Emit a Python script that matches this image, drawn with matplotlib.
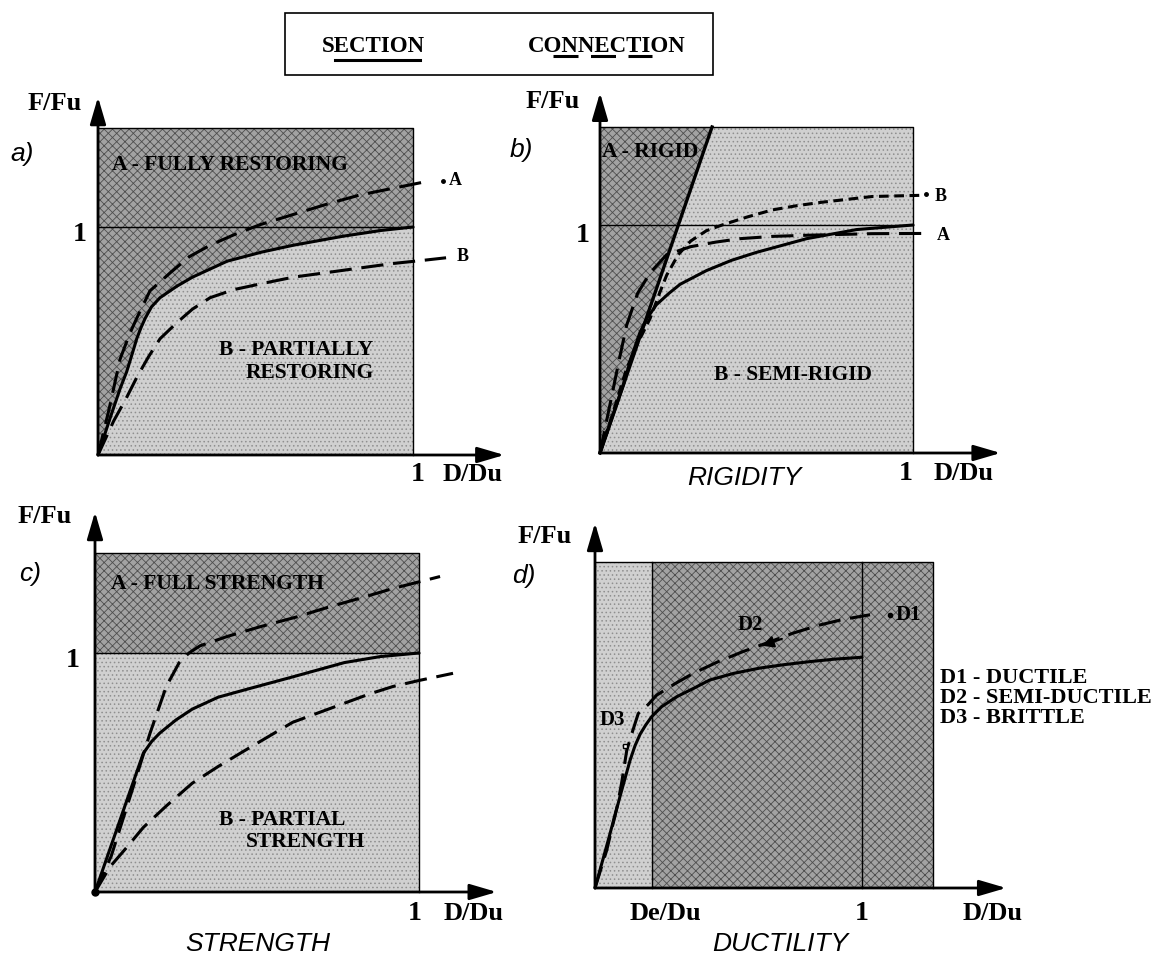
import numpy as np
import matplotlib.pyplot as plt
from matplotlib.patches import Rectangle
from matplotlib.lines import Line2D

plt.rcParams['lines.scale_dashes'] = False
plt.rcParams['hatch.linewidth'] = 0.6

W, H = 1175, 961
SERIF = 'Liberation Serif'
SANS = 'Liberation Sans'

# dash patterns (points)
LONG = (0, (16, 7))
SHORT = (0, (7, 4))

# ---- a) restoring: section vs. connections A (fully) and B (partially)
a_section_x = [0, 0.038, 0.07, 0.091, 0.11, 0.123, 0.137, 0.15, 0.17, 0.197, 0.25, 0.30, 0.41, 0.52, 0.62, 0.78, 0.90, 1.0]
a_section_y = [0, 0.16, 0.29, 0.365, 0.45, 0.51, 0.56, 0.60, 0.65, 0.69, 0.74, 0.78, 0.85, 0.89, 0.92, 0.96, 0.985, 1.0]
a_connA_x = [0, 0.035, 0.07, 0.10, 0.123, 0.165, 0.23, 0.29, 0.356, 0.43, 0.514, 0.62, 0.726, 0.83, 0.937, 1.045]
a_connA_y = [0, 0.20, 0.42, 0.53, 0.60, 0.72, 0.80, 0.87, 0.92, 0.965, 1.01, 1.055, 1.10, 1.14, 1.17, 1.20]
a_connB_x = [0, 0.05, 0.09, 0.123, 0.16, 0.197, 0.25, 0.30, 0.356, 0.43, 0.514, 0.62, 0.726, 0.83, 0.937, 1.04, 1.105]
a_connB_y = [0, 0.15, 0.25, 0.34, 0.43, 0.51, 0.58, 0.64, 0.69, 0.725, 0.75, 0.78, 0.80, 0.82, 0.84, 0.855, 0.865]

# ---- b) rigidity
b_rigid_x = [0, 0.358]
b_rigid_y = [0, 1.43]
b_section_x = [0, 0.04, 0.075, 0.10, 0.128, 0.15, 0.18, 0.22, 0.256, 0.34, 0.42, 0.50, 0.58, 0.66, 0.74, 0.82, 0.91, 1.0]
b_section_y = [0, 0.16, 0.30, 0.42, 0.53, 0.59, 0.65, 0.70, 0.74, 0.80, 0.845, 0.88, 0.91, 0.94, 0.96, 0.98, 0.99, 1.0]
b_connA_x = [0, 0.03, 0.06, 0.085, 0.12, 0.16, 0.213, 0.29, 0.37, 0.447, 0.55, 0.66, 0.87, 1.04]
b_connA_y = [0, 0.20, 0.40, 0.56, 0.70, 0.79, 0.87, 0.905, 0.925, 0.94, 0.95, 0.955, 0.962, 0.963]
b_connB_x = [0, 0.04, 0.085, 0.12, 0.16, 0.19, 0.213, 0.25, 0.29, 0.34, 0.39, 0.47, 0.55, 0.63, 0.71, 0.87, 1.02]
b_connB_y = [0, 0.17, 0.37, 0.48, 0.59, 0.70, 0.78, 0.87, 0.93, 0.975, 1.0, 1.035, 1.066, 1.085, 1.10, 1.125, 1.13]

# ---- c) strength
c_section_x = [0, 0.05, 0.10, 0.149, 0.175, 0.20, 0.25, 0.30, 0.38, 0.46, 0.61, 0.77, 0.88, 1.0]
c_section_y = [0, 0.195, 0.39, 0.58, 0.63, 0.665, 0.72, 0.765, 0.815, 0.845, 0.90, 0.96, 0.985, 1.0]
c_connA_x = [0, 0.05, 0.118, 0.17, 0.22, 0.26, 0.29, 0.324, 0.41, 0.51, 0.62, 0.716, 0.82, 0.92, 1.065]
c_connA_y = [0, 0.15, 0.44, 0.665, 0.86, 0.96, 1.0, 1.03, 1.07, 1.11, 1.15, 1.19, 1.23, 1.27, 1.32]
c_connB_x = [0, 0.046, 0.10, 0.149, 0.22, 0.30, 0.38, 0.46, 0.535, 0.61, 0.69, 0.77, 0.85, 0.92, 1.0, 1.105]
c_connB_y = [0, 0.105, 0.19, 0.27, 0.36, 0.455, 0.525, 0.59, 0.65, 0.71, 0.75, 0.79, 0.83, 0.86, 0.885, 0.915]

# ---- d) ductility
d_elastic = 0.213      # De/Du
d_frame_right = 1.266
d_section_x = [0, 0.05, 0.094, 0.131, 0.15, 0.169, 0.19, 0.212, 0.25, 0.306, 0.37, 0.43, 0.52, 0.618, 0.71, 0.805, 0.90, 1.0]
d_section_y = [0, 0.21, 0.40, 0.555, 0.62, 0.67, 0.71, 0.746, 0.79, 0.833, 0.87, 0.906, 0.935, 0.958, 0.973, 0.986, 0.997, 1.005]
d_conn_x = [0, 0.044, 0.084, 0.10, 0.119, 0.14, 0.162, 0.20, 0.231, 0.30, 0.368, 0.46, 0.555, 0.65, 0.742, 0.84, 0.93, 1.03]
d_conn_y = [0, 0.165, 0.36, 0.46, 0.60, 0.68, 0.76, 0.80, 0.84, 0.89, 0.935, 0.985, 1.03, 1.07, 1.11, 1.145, 1.17, 1.19]

LIGHT = dict(facecolor='#d0d0d0', edgecolor='#8f8f8f', hatch='....', linewidth=0, zorder=1)
DARK = dict(facecolor='#a2a2a2', edgecolor='#4e4e4e', hatch='xxxx', linewidth=0, zorder=1)

fig = plt.figure(figsize=(W / 100, H / 100), dpi=100)


def make_panel(ox, oy, ux, uy):
    xlim, ylim = (-0.4, 1.7), (-0.35, 1.75)
    left = (ox + xlim[0] * ux) / W
    bottom = 1 - (oy - ylim[0] * uy) / H
    ax = fig.add_axes([left, bottom, (xlim[1] - xlim[0]) * ux / W, (ylim[1] - ylim[0]) * uy / H])
    ax.set_xlim(xlim)
    ax.set_ylim(ylim)
    ax.axis('off')
    return ax


def axis_arrows(ax, xend, yend):
    for xy in [(xend, 0), (0, yend)]:
        ax.annotate('', xy=xy, xytext=(0, 0), zorder=6,
                    arrowprops=dict(arrowstyle='-|>,head_length=0.75,head_width=0.22',
                                    lw=2.0, color='k', shrinkA=0, shrinkB=0, mutation_scale=22))


def frame(ax, right, top, hline=True):
    ax.plot([0, right, right], [top, top, 0], color='k', lw=1.0, zorder=2)
    if hline:
        ax.plot([0, right], [1, 1], color='k', lw=1.0, zorder=2)


def bold(ax, x, y, s, size=15.5, ha='center'):
    ax.text(x, y, s, family=SERIF, weight='bold', size=size, ha=ha, va='center', zorder=7)


def italic(ax, x, y, s, size=19):
    ax.text(x, y, s, family=SANS, style='italic', size=size, ha='center', va='center', zorder=7)


def curve(ax, x, y, ls='-'):
    ax.plot(x, y, color='k', lw=2.2, ls=ls, solid_capstyle='round', solid_joinstyle='round', zorder=4)


# ---------------- a)
top = 1.434
ax = make_panel(98, 455, 315, 228)
ax.fill_between(a_section_x, a_section_y, top, **DARK)
ax.fill_between(a_section_x, 0, a_section_y, **LIGHT)
frame(ax, 1, top)
curve(ax, a_section_x, a_section_y)
curve(ax, a_connA_x, a_connA_y, LONG)
curve(ax, a_connB_x, a_connB_y, LONG)
axis_arrows(ax, 1.29, 1.57)
ax.plot(1.095, 1.20, 'o', color='k', ms=2.5, zorder=5)
bold(ax, 1.115, 1.205, 'A', 13, ha='left')
bold(ax, 1.14, 0.87, 'B', 13, ha='left')
bold(ax, 0.42, 1.27, 'A - FULLY RESTORING')
bold(ax, 0.873, 0.46, 'B - PARTIALLY', ha='right')
bold(ax, 0.876, 0.36, 'RESTORING', ha='right')
bold(ax, -0.137, 1.54, 'F/Fu', 19)
bold(ax, -0.057, 0.965, '1', 20)
bold(ax, 1.016, -0.085, '1', 20)
bold(ax, 1.19, -0.085, 'D/Du', 19)
italic(ax, -0.24, 1.32, 'a)')

# ---------------- b)
top = 1.43
ax = make_panel(600, 453, 313, 228)
ax.fill([0, b_rigid_x[1], 0], [0, top, top], **DARK)
ax.fill([0, 1, 1, b_rigid_x[1]], [0, 0, top, top], **LIGHT)
frame(ax, 1, top)
ax.plot(b_rigid_x, b_rigid_y, color='k', lw=2.4, zorder=4)
curve(ax, b_section_x, b_section_y)
curve(ax, b_connA_x, b_connA_y, LONG)
curve(ax, b_connB_x, b_connB_y, SHORT)
axis_arrows(ax, 1.28, 1.58)
ax.plot(1.04, 1.135, 'o', color='k', ms=2.5, zorder=5)
bold(ax, 1.07, 1.125, 'B', 13, ha='left')
bold(ax, 1.075, 0.955, 'A', 13, ha='left')
bold(ax, 0.16, 1.32, 'A - RIGID')
bold(ax, 0.617, 0.342, 'B - SEMI-RIGID')
bold(ax, -0.15, 1.54, 'F/Fu', 19)
bold(ax, -0.054, 0.956, '1', 20)
bold(ax, 0.978, -0.092, '1', 20)
bold(ax, 1.16, -0.092, 'D/Du', 19)
italic(ax, -0.25, 1.33, 'b)')
italic(ax, 0.46, -0.11, 'RIGIDITY')

# ---------------- c)
top = 1.418
ax = make_panel(95, 892, 324, 239)
ax.fill_between([0, 1], 1, top, **DARK)
ax.fill_between([0, 1], 0, 1, **LIGHT)
frame(ax, 1, top)
curve(ax, c_section_x, c_section_y)
curve(ax, c_connA_x, c_connA_y, LONG)
curve(ax, c_connB_x, c_connB_y, LONG)
ax.plot(0, 0, 'o', color='k', ms=5, zorder=5)
axis_arrows(ax, 1.24, 1.59)
bold(ax, 0.377, 1.29, 'A - FULL STRENGTH')
bold(ax, 0.577, 0.30, 'B - PARTIAL')
bold(ax, 0.651, 0.21, 'STRENGTH')
bold(ax, -0.154, 1.57, 'F/Fu', 19)
bold(ax, -0.068, 0.97, '1', 20)
bold(ax, 0.988, -0.088, '1', 20)
bold(ax, 1.167, -0.088, 'D/Du', 19)
italic(ax, -0.2, 1.33, 'c)')
italic(ax, 0.503, -0.218, 'STRENGTH')

# ---------------- d)
top = 1.42
ax = make_panel(595, 888, 267, 229.6)
ax.fill_between([0, d_elastic], 0, top, **LIGHT)
ax.fill_between([d_elastic, d_frame_right], 0, top, **DARK)
ax.plot([0, d_frame_right, d_frame_right], [top, top, 0], color='k', lw=1.0, zorder=2)
ax.plot([d_elastic, d_elastic], [0, top], color='k', lw=1.0, zorder=2)
ax.plot([1, 1], [0, top], color='k', lw=1.0, zorder=2)
curve(ax, d_section_x, d_section_y)
curve(ax, d_conn_x, d_conn_y, LONG)
axis_arrows(ax, 1.54, 1.59)
ax.plot(0.112, 0.62, 's', mfc='white', mec='k', ms=3.5, mew=1, zorder=5)
ax.annotate('', xy=(0.625, 1.055), xytext=(0.70, 1.085), zorder=5,
            arrowprops=dict(arrowstyle='-|>,head_length=0.5,head_width=0.25', color='k',
                            lw=1.5, shrinkA=0, shrinkB=0, mutation_scale=14))
ax.plot(1.105, 1.19, 'o', color='k', ms=3, zorder=5)
bold(ax, 1.125, 1.19, 'D1', 15, ha='left')
bold(ax, 0.58, 1.145, 'D2', 15)
bold(ax, 0.064, 0.73, 'D3', 15)
bold(ax, 1.292, 0.915, 'D1 - DUCTILE', 16, ha='left')
bold(ax, 1.292, 0.828, 'D2 - SEMI-DUCTILE', 16, ha='left')
bold(ax, 1.292, 0.74, 'D3 - BRITTLE', 16, ha='left')
bold(ax, -0.187, 1.53, 'F/Fu', 19)
bold(ax, 0.262, -0.109, 'De/Du', 19)
bold(ax, 1.0, -0.109, '1', 20)
bold(ax, 1.49, -0.109, 'D/Du', 19)
italic(ax, -0.266, 1.36, 'd)')
italic(ax, 0.693, -0.244, 'DUCTILITY')

# ---------------- legend box
fig.add_artist(Rectangle((285 / W, 1 - 75 / H), 428 / W, 62 / H, transform=fig.transFigure,
                         fill=False, lw=1.2, color='k'))
fig.text(373 / W, 1 - 46 / H, 'SECTION', family=SERIF, weight='bold', size=16.5, ha='center', va='center')
fig.text(607 / W, 1 - 46 / H, 'CONNECTION', family=SERIF, weight='bold', size=16.5, ha='center', va='center')
fig.add_artist(Line2D([335 / W, 420 / W], [1 - 60 / H] * 2, transform=fig.transFigure, color='k', lw=2.2))
fig.add_artist(Line2D([553 / W, 652 / W], [1 - 56 / H] * 2, transform=fig.transFigure, color='k', lw=2.2,
                      ls=(0, (18, 9))))

fig.savefig('out.png', dpi=100)
